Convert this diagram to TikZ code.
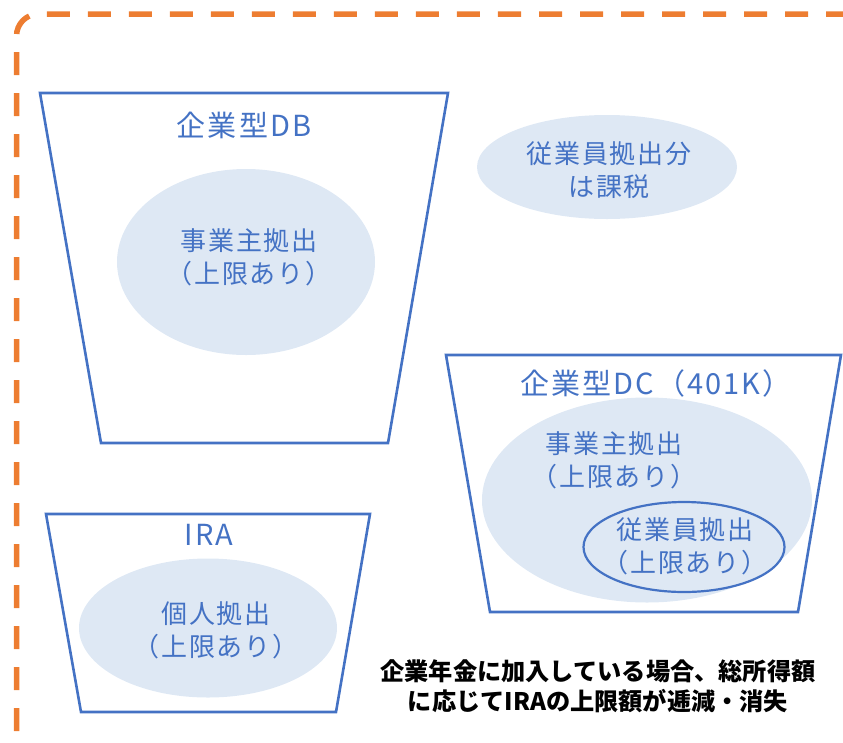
\documentclass[tikz,border=0pt]{standalone}
\usepackage{fontspec}
\setmainfont{Noto Sans CJK JP}
\usetikzlibrary{shapes.geometric}
\definecolor{ob}{HTML}{4472C4}
\definecolor{ofill}{HTML}{DEE8F4}
\definecolor{oor}{HTML}{ED7D31}
\begin{document}
\begin{tikzpicture}[x=1pt,y=-1pt,
  cup/.style={draw=ob, line width=2.6pt, line join=miter},
  blob/.style={ellipse, fill=ofill, inner sep=0pt, draw=none},
  lbl/.style={text=ob, align=center, font=\fontsize{26}{33}\selectfont\addfontfeature{LetterSpace=7}, inner sep=0pt},
  ttl/.style={text=ob, font=\fontsize{29}{33}\selectfont\addfontfeature{LetterSpace=7}, inner sep=0pt},
  note/.style={text=black, align=center, font=\bfseries\fontsize{24.2}{30}\selectfont, inner sep=0pt}]
\useasboundingbox (0,0) rectangle (843,742);
\begin{scope}
\clip (0,0) rectangle (843,742);
\draw[oor, line width=5.5pt, dash pattern=on 23pt off 18pt, rounded corners=22pt]
  (16.5,772) -- (16.5,14) -- (880,14);

% DB
\coordinate (db1) at (40,93);
\coordinate (db2) at (448,93);
\coordinate (db3) at (388,443);
\coordinate (db4) at (101,443);
\draw[cup] (db1) -- (db2) -- (db3) -- (db4) -- cycle;
\node[ttl] (dbt) at (244,125) {企業型DB};
\node[blob, minimum width=258pt, minimum height=186pt] (dbe) at (246,262) {};
\node[lbl] (dbx) at (249,257) {事業主拠出\\（上限あり）};

% employee taxed
\node[blob, minimum width=260pt, minimum height=104pt] (tax) at (607,167) {};
\node[lbl] (taxx) at (609,170) {従業員拠出分\\は課税};

% DC
\coordinate (dc1) at (446,355);
\coordinate (dc2) at (841,355);
\coordinate (dc3) at (798,612);
\coordinate (dc4) at (490,612);
\draw[cup] (dc1) -- (dc2) -- (dc3) -- (dc4) -- cycle;
\node[ttl] (dct) at (656,383) {企業型DC（401K）};
\node[blob, minimum width=330pt, minimum height=205pt] (dce) at (647,500) {};
\node[lbl] (dcx) at (614,460) {事業主拠出\\（上限あり）};
\node[blob, draw=ob, line width=2.2pt, minimum width=201pt, minimum height=90pt] (dci) at (684,547) {};
\node[lbl] (dcix) at (685,546) {従業員拠出\\（上限あり）};

% IRA
\coordinate (ir1) at (46,514);
\coordinate (ir2) at (370,514);
\coordinate (ir3) at (336,712);
\coordinate (ir4) at (81,712);
\draw[cup] (ir1) -- (ir2) -- (ir3) -- (ir4) -- cycle;
\node[ttl] (irt) at (209,535) {IRA};
\node[blob, minimum width=258pt, minimum height=139pt] (ire) at (208,628) {};
\node[lbl] (irx) at (216,630) {個人拠出\\（上限あり）};

% note
\node[note] (nt) at (598,686) {企業年金に加入している場合、総所得額\\に応じてIRAの上限額が逓減・消失};
\end{scope}
\end{tikzpicture}
\end{document}
